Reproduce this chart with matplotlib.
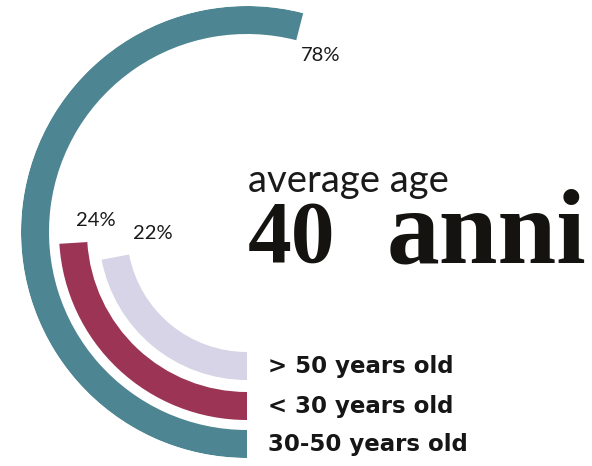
import numpy as np
import matplotlib
matplotlib.use("Agg")
import matplotlib.pyplot as plt

# %% Data (inner ring first)
groups = ["> 50 years old", "< 30 years old", "30-50 years old"]
shares = [22, 24, 54]              # share of the full circle drawn by each ring
pct_labels = ["22%", "24%", "78%"]
colors = ["#D6D4E6", "#9B3455", "#4D8692"]

avg_title = "average age"
avg_value = "40"
avg_unit = "anni"

# ring geometry (pixels, axes radius = 226)
ring_inner = [120, 160, 198]
ring_width = 28
label_offsets = [(37, 24), (22, 22), (21, -29)]

W, H = 592, 466
fig = plt.figure(figsize=(W / 100, H / 100), dpi=100)
fig.patch.set_facecolor("white")

# polar axes centred at (247, 232) px, radius 226 px
cx, cy, R = 247, 232, 226
ax = fig.add_axes([(cx - R) / W, (H - cy - R) / H, 2 * R / W, 2 * R / H],
                  projection="polar")
ax.set_theta_zero_location("S")
ax.set_theta_direction(-1)
ax.set_ylim(0, R)
ax.set_axis_off()

for share, r0, col, lab, off in zip(shares, ring_inner, colors, pct_labels, label_offsets):
    sweep = share / 100 * 2 * np.pi
    ax.bar(0, ring_width, width=sweep, bottom=r0, align="edge",
           color=col, edgecolor="none")
    ax.annotate(lab, xy=(sweep, r0 + ring_width / 2), xytext=off,
                textcoords="offset pixels", ha="center", va="center",
                fontsize=14.5, family=["Lato", "DejaVu Sans"], color="#1a1a1a")

for grp, r0 in zip(groups, ring_inner):
    ax.annotate(grp, xy=(0, r0 + ring_width / 2), xytext=(21, 0),
                textcoords="offset pixels", ha="left", va="center",
                fontsize=16.5, fontweight="bold", family="DejaVu Sans",
                color="#161616")

# headline
fig.text(248 / W, (H - 192) / H, avg_title, ha="left", va="baseline",
         fontsize=27.5, fontweight="normal", family=["Lato", "DejaVu Sans"], color="#1a1a1a")
fig.text(248 / W, (H - 262) / H, avg_value, ha="left", va="baseline",
         fontsize=63, fontweight="bold", family=["Liberation Serif", "DejaVu Serif"],
         color="#14130f")
fig.text(387 / W, (H - 262) / H, avg_unit, ha="left", va="baseline",
         fontsize=76, fontweight="bold", family=["Liberation Serif", "DejaVu Serif"],
         color="#14130f")

fig.savefig("out.png", dpi=100, facecolor="white")
